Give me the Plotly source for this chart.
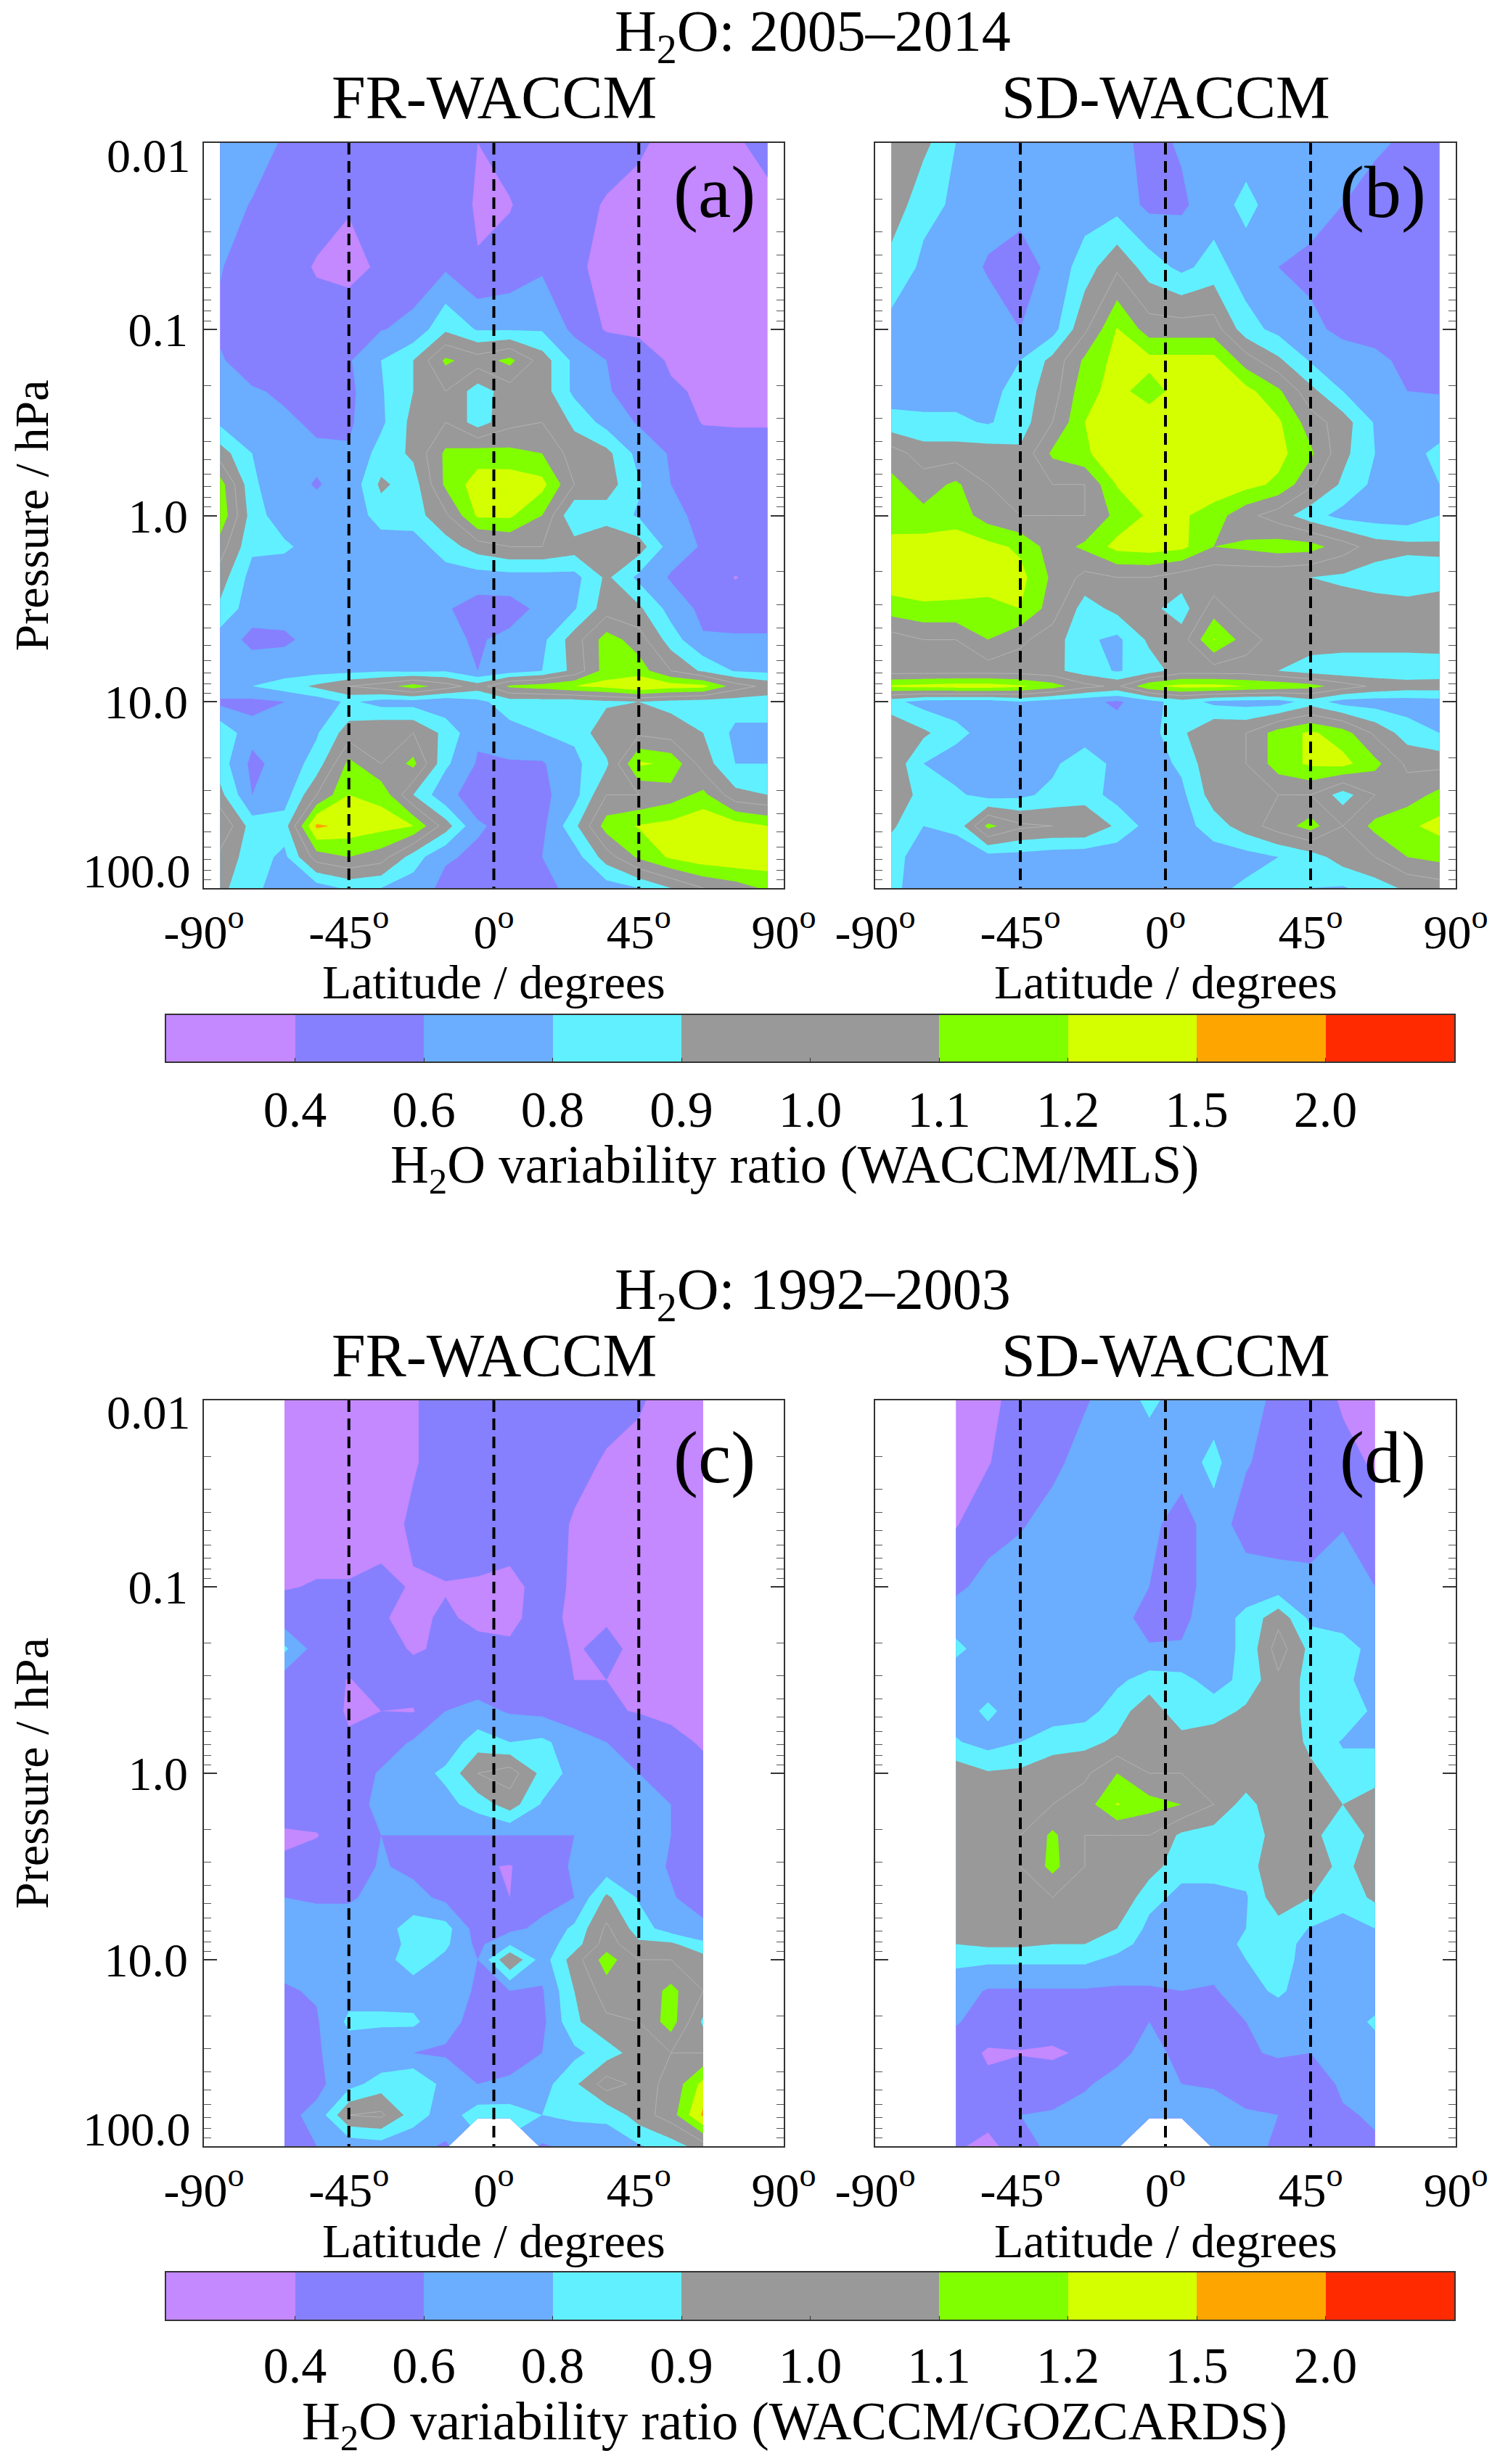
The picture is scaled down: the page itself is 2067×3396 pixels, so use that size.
import numpy as np
import plotly.graph_objects as go

N = None
lat_full = [-85,-75,-65,-55,-45,-35,-25,-15,-5,5,15,25,35,45,55,65,75,85]
lat_part = [-65,-55,-45,-35,-25,-15,-5,5,15,25,35,45,55,65]
pressure = [0.01,0.0215,0.0464,0.1,0.147,0.215,0.316,0.464,0.681,1.0,1.47,2.15,3.16,4.64,6.81,8.25,10.0,14.7,21.5,31.6,46.4,68.1,100.0]

ratio_a = [
[.72,.68,.58,.5,.5,.5,.5,.48,.4,.47,.5,.5,.5,.42,.36,.35,.38,.45],
[.67,.59,.5,.5,.41,.5,.5,.5,.38,.39,.5,.48,.38,.36,.34,.33,.33,.36],
[.61,.52,.5,.38,.36,.42,.5,.57,.41,.47,.57,.42,.37,.36,.34,.33,.33,.33],
[.57,.5,.5,.5,.48,.59,.65,.88,.78,.78,.78,.55,.38,.37,.33,.33,.33,.33],
[.62,.5,.5,.5,.58,.8,.9,1.12,1.05,1.13,.95,.75,.6,.48,.38,.36,.35,.33],
[.65,.62,.57,.5,.55,.78,.9,1.0,.85,.95,.95,.75,.62,.5,.42,.38,.36,.34],
[.76,.66,.63,.57,.57,.76,.93,1.0,.85,.97,1.0,.88,.72,.58,.5,.39,.39,.39],
[.95,.8,.65,.63,.62,.84,.92,1.12,1.15,1.13,1.1,.95,.93,.73,.58,.5,.45,.45],
[1.15,.82,.65,.59,.65,.92,.85,1.12,1.35,1.4,1.3,1.0,.95,.81,.6,.5,.45,.45],
[1.18,.85,.68,.65,.65,.85,.85,.98,1.25,1.25,1.1,.8,.85,.78,.65,.55,.5,.5],
[1.05,.82,.82,.7,.68,.68,.7,.85,.95,1.0,1.0,.95,1.0,.95,.7,.58,.55,.52],
[.95,.72,.66,.66,.65,.65,.66,.7,.7,.72,.72,.73,.92,.75,.58,.55,.39,.5],
[.88,.68,.67,.66,.65,.63,.63,.62,.52,.52,.65,.78,.95,.92,.72,.55,.52,.52],
[.7,.55,.57,.66,.66,.66,.66,.64,.58,.65,.75,.95,1.15,1.05,.85,.62,.62,.62],
[.75,.7,.7,.72,.74,.77,.75,.78,.6,.7,.8,.93,1.15,1.15,1.0,.88,.78,.75],
[.8,.8,.85,.92,1.0,1.05,1.15,1.05,.95,1.12,1.15,1.2,1.3,1.5,1.35,1.3,1.05,.97],
[.55,.55,.6,.68,.82,.72,.72,.65,.75,.85,.85,.85,.88,.9,.87,.85,.85,.85],
[.88,.66,.66,.78,.95,1.0,1.0,.87,.63,.73,.8,.82,.98,.98,.95,.9,.75,.75],
[.85,.55,.68,.84,1.13,1.0,1.13,.82,.58,.58,.58,.75,.88,1.25,1.18,.95,.8,.8],
[.93,.6,.7,1.0,1.2,1.18,.9,.65,.52,.52,.55,.72,1.0,1.0,1.05,1.13,.93,.9],
[1.1,.85,.85,1.6,1.4,1.3,1.2,.95,.62,.55,.55,.87,1.15,1.22,1.3,1.45,1.35,1.2],
[.97,.85,.75,1.05,1.1,1.05,.85,.62,.57,.55,.6,.7,.95,1.12,1.25,1.4,1.45,1.4],
[.93,.82,.72,.7,.82,.8,.7,.55,.58,.58,.55,.65,.7,.8,.9,1.0,1.05,1.12],
]

ratio_b = [
[1.0,.93,.8,.7,.68,.68,.68,.65,.55,.62,.66,.7,.68,.68,.65,.62,.58,.6],
[.98,.82,.78,.68,.67,.68,.7,.72,.55,.57,.7,.83,.7,.68,.6,.55,.5,.5],
[.85,.77,.7,.58,.5,.66,.85,.98,.85,.75,.84,.7,.6,.55,.5,.5,.5,.5],
[.75,.72,.72,.7,.6,.72,.98,1.22,1.05,1.05,1.05,.84,.74,.65,.55,.52,.52,.52],
[.72,.72,.72,.72,.8,.93,1.12,1.3,1.3,1.3,1.3,1.05,.92,.78,.7,.65,.55,.52],
[.72,.72,.72,.72,.85,.95,1.17,1.3,1.15,1.35,1.35,1.3,1.12,.93,.8,.72,.6,.59],
[.83,.82,.82,.78,.85,1.0,1.2,1.35,1.4,1.4,1.4,1.35,1.25,1.05,.95,.78,.7,.68],
[1.05,.95,.95,.95,.92,1.12,1.18,1.45,1.5,1.5,1.45,1.4,1.3,1.12,.93,.8,.72,.83],
[1.13,1.05,1.12,1.0,.98,1.0,1.0,1.22,1.35,1.35,1.4,1.3,1.18,1.02,.88,.75,.7,.8],
[1.15,1.13,1.16,1.05,1.0,1.0,1.0,1.13,1.25,1.25,1.15,1.03,.95,.84,.73,.7,.68,.8],
[1.3,1.35,1.35,1.3,1.18,1.05,1.12,1.3,1.35,1.28,1.1,1.12,1.15,1.14,1.05,.95,.93,.92],
[1.4,1.4,1.35,1.3,1.3,1.08,.97,1.0,1.0,.95,.93,.93,.92,.9,.88,.85,.82,.86],
[1.15,1.18,1.18,1.18,1.2,1.05,.85,.93,.93,.85,1.05,.93,.95,.95,.95,.95,.95,.95],
[.95,1.0,1.0,1.1,1.02,.95,.82,.75,.92,.95,1.22,1.05,.95,.95,.95,.95,.95,.95],
[.95,.95,.95,.95,.95,.93,.85,.78,.85,.95,.95,.95,.9,.85,.83,.83,.83,.84],
[1.25,1.3,1.35,1.35,1.25,1.15,1.03,.98,1.18,1.3,1.3,1.2,1.18,1.14,1.05,.98,.95,.95],
[.83,.72,.7,.7,.8,.7,.65,.57,.72,.85,.75,.72,.7,.85,.72,.7,.7,.72],
[1.0,.92,.83,.72,.68,.66,.66,.68,.72,.88,1.0,1.0,1.15,1.25,1.15,.98,.85,.8],
[.98,.8,.7,.7,.7,.75,.88,.72,.7,.82,.98,1.0,1.15,1.25,1.3,1.13,.98,.97],
[1.0,.85,.82,.72,.75,.83,.85,.72,.7,.75,.95,1.0,1.0,1.0,.85,1.0,1.05,1.13],
[.92,.8,.82,1.13,1.02,1.0,1.0,.88,.72,.72,.85,.95,1.05,1.14,1.0,1.13,1.18,1.3],
[.83,.72,.7,.72,.72,.68,.66,.66,.66,.68,.7,.72,.8,.85,.95,1.0,1.1,1.13],
[.82,.72,.68,.66,.66,.66,.66,.66,.66,.68,.75,.82,.88,.8,.78,.85,.92,.95],
]

ratio_c = [
[.33,.33,.33,.34,.38,.5,.5,.5,.5,.5,.47,.42,.33,.33],
[.33,.33,.33,.34,.39,.45,.5,.5,.5,.46,.38,.35,.33,.33],
[.33,.33,.33,.35,.42,.5,.5,.5,.5,.38,.35,.34,.33,.33],
[.39,.41,.41,.43,.39,.39,.38,.35,.46,.38,.36,.34,.33,.33],
[.48,.5,.5,.41,.37,.42,.37,.37,.45,.37,.38,.35,.34,.33],
[.82,.5,.5,.48,.38,.43,.44,.42,.5,.38,.45,.35,.34,.33],
[.5,.5,.39,.48,.48,.5,.5,.5,.5,.4,.4,.36,.34,.33],
[.5,.5,.38,.4,.39,.6,.66,.58,.55,.47,.42,.39,.36,.34],
[.5,.5,.42,.5,.62,.68,.85,.8,.82,.7,.6,.52,.45,.38],
[.5,.5,.5,.62,.72,.82,1.0,1.05,.87,.72,.68,.6,.52,.45],
[.47,.5,.55,.63,.68,.74,.84,.95,.78,.7,.68,.65,.6,.5],
[.38,.39,.52,.6,.6,.6,.6,.6,.6,.6,.66,.65,.6,.5],
[.42,.5,.5,.62,.55,.55,.42,.39,.52,.62,.68,.7,.58,.5],
[.6,.58,.58,.65,.67,.55,.45,.4,.52,.6,.92,.78,.62,.5],
[.68,.68,.68,.7,.85,.84,.5,.55,.65,.82,1.02,.85,.7,.65],
[.68,.68,.68,.7,.83,.82,.55,.78,.7,.85,1.05,.92,.92,.82],
[.66,.68,.7,.72,.85,.75,.6,1.0,.7,.95,1.15,1.0,1.0,.95],
[.58,.62,.72,.72,.7,.68,.58,.6,.58,.9,1.05,1.02,1.13,1.0],
[.58,.58,.82,.82,.82,.65,.55,.5,.55,.88,.98,1.0,1.15,.88],
[.58,.58,.7,.62,.6,.58,.55,.55,.6,.75,.85,.95,1.0,1.0],
[.55,.55,.72,.85,.9,.72,.6,.62,.72,.88,1.05,.97,1.02,1.3],
[.55,.65,1.0,1.02,.85,.7,.85,.85,.8,.82,.82,.95,1.05,1.6],
[.52,.6,.65,.7,.65,.58,N,N,.58,.65,.7,.78,.85,.95],
]

ratio_d = [
[.33,.33,.5,.5,.58,.7,.82,.72,.7,.68,.55,.5,.38,.33],
[.33,.39,.5,.55,.68,.7,.7,.7,.83,.62,.5,.5,.45,.38],
[.39,.5,.58,.68,.7,.7,.66,.5,.72,.5,.5,.5,.59,.5],
[.55,.68,.72,.72,.72,.7,.6,.5,.72,.72,.68,.66,.68,.6],
[.72,.72,.72,.72,.72,.68,.52,.55,.72,.82,.97,.75,.7,.68],
[.82,.72,.72,.72,.72,.72,.62,.62,.72,.82,1.05,.87,.85,.72],
[.7,.7,.7,.7,.72,.76,.84,.83,.72,.83,.98,.86,.82,.72],
[.7,.82,.7,.7,.72,.85,.97,.82,.85,.92,1.0,.85,.88,.75],
[.81,.72,.8,.85,.87,.92,1.0,.95,.97,.98,1.0,.87,.78,.78],
[.96,.91,.92,.97,.98,1.1,1.0,1.0,1.0,.98,1.0,.93,.84,.84],
[1.0,1.0,1.0,1.0,1.05,1.22,1.14,1.1,1.0,.85,1.0,.95,.9,.97],
[1.0,1.0,1.0,1.12,1.0,1.0,1.0,.88,.85,.83,.95,.92,.86,.92],
[1.0,1.0,1.0,1.13,1.0,1.0,.95,.83,.85,.84,1.0,1.0,.85,1.0],
[1.0,1.0,1.0,1.0,1.0,1.0,.83,.75,.72,.78,.97,.9,.84,.92],
[.97,.97,.97,.97,.98,.9,.75,.72,.72,.8,.85,.79,.72,.8],
[.9,.92,.92,.9,.9,.84,.72,.7,.7,.82,.85,.72,.7,.7],
[.82,.82,.82,.82,.82,.75,.7,.68,.68,.8,.85,.7,.68,.68],
[.7,.58,.58,.58,.58,.57,.58,.6,.58,.72,.82,.68,.65,.65],
[.62,.5,.5,.5,.5,.5,.6,.5,.5,.6,.66,.68,.68,.82],
[.48,.38,.39,.37,.43,.55,.66,.55,.5,.58,.62,.6,.64,.7],
[.45,.43,.5,.5,.58,.66,.7,.6,.58,.52,.5,.5,.63,.7],
[.45,.45,.6,.62,.66,.7,.75,.75,.7,.62,.6,.5,.58,.62],
[.42,.36,.48,.68,.7,.7,N,N,.7,.66,.57,.52,.5,.58],
]

level_edges = [0.2,0.4,0.6,0.8,0.9,1.0,1.1,1.2,1.5,2.0,3.0]
level_labels = ["0.4","0.6","0.8","0.9","1.0","1.1","1.2","1.5","2.0"]
band_colors = ["#C488FF","#8680FF","#6BADFF","#61F0FF","#999999","#999999","#80FF00","#D4FF00","#FFA500","#FF2A00"]
dashed_lats = [-45,0,45]
lat_ticks = [-90,-45,0,45,90]
p_ticks = [0.1,1.0,10.0]
p_minor = [m*10.0**e for e in range(-2,2) for m in range(2,10)]

W, H = 2067, 3396
FONT = "Liberation Serif"
TICK = 66
def px(v): return v/W
def py(v): return 1-v/H

stepped = []
for i,c in enumerate(band_colors):
    stepped += [[i/10,c],[(i+1)/10,c]]

fig = go.Figure()
panels = [
 (ratio_a, lat_full, 281, 1080, 197, 1224, "(a)", 984, 264),
 (ratio_b, lat_full, 1206, 2006, 197, 1224, "(b)", 1905, 264),
 (ratio_c, lat_part, 281, 1080, 1930, 2958, "(c)", 984, 2008),
 (ratio_d, lat_part, 1206, 2006, 1930, 2958, "(d)", 1905, 2008),
]
ann = []
def text(t,x,y,size,rot=0,anchor="center"):
    ann.append(dict(text=t,x=px(x),y=py(y),xref="paper",yref="paper",showarrow=False,
                    xanchor=anchor,yanchor="middle",textangle=rot,
                    font=dict(family=FONT,size=size,color="black")))

for i,(z,lats,x0,x1,y0,y1,lab,lx,ly) in enumerate(panels):
    n = i+1
    xa,ya = f"x{n}",f"y{n}"
    band = np.interp(np.array(z,dtype=float),level_edges,np.arange(11))
    fig.add_trace(go.Contour(x=lats,y=pressure,z=band,xaxis=xa,yaxis=ya,colorscale=stepped,
        zmin=0,zmax=10,autocontour=False,showscale=False,connectgaps=False,hoverinfo="skip",
        contours=dict(coloring="fill",start=1,end=9,size=1,showlines=False),line=dict(width=0,smoothing=0)))
    fig.add_trace(go.Contour(x=lats,y=pressure,z=band,xaxis=xa,yaxis=ya,showscale=False,
        autocontour=False,connectgaps=False,hoverinfo="skip",
        contours=dict(coloring="none",start=5,end=5.5,size=1,showlines=True),
        line=dict(color="#b4b4b4",width=1,smoothing=0)))
    for d in dashed_lats:
        fig.add_trace(go.Scatter(x=[d,d],y=[pressure[0],pressure[-1]],xaxis=xa,yaxis=ya,mode="lines",
            line=dict(color="black",width=4,dash="16px,9px"),showlegend=False,hoverinfo="skip"))
    fig.update_layout({
      f"xaxis{n}":dict(domain=[px(x0),px(x1)],anchor=ya,range=[-90,90],tickvals=lat_ticks,
         ticktext=[f"{t}<sup>o</sup>" for t in lat_ticks],ticks="",showgrid=False,zeroline=False,
         showline=True,linecolor="#333",linewidth=1.5,mirror=True,ticklabelstandoff=2,
         tickfont=dict(family=FONT,size=TICK,color="black")),
      f"yaxis{n}":dict(domain=[py(y1),py(y0)],anchor=xa,type="log",range=[2,-2],
         tickvals=p_ticks,ticktext=[f"{t:.1f}" for t in p_ticks] if n in (1,3) else ["","",""],
         ticks="inside",ticklen=18,tickcolor="#333",tickwidth=1.5,showgrid=False,zeroline=False,
         showline=True,linecolor="#333",linewidth=1.5,mirror="ticks",ticklabelstandoff=7,
         minor=dict(tickvals=p_minor,ticks="inside",ticklen=10,tickcolor="#555",tickwidth=1,showgrid=False),
         tickfont=dict(family=FONT,size=TICK,color="black")),
    })
    cx = (x0+x1)/2
    text(lab,lx,ly,102)
    text("FR-WACCM" if n%2 else "SD-WACCM",cx,y0-62,84)
    text("Latitude / degrees",cx,y1+130,66)
    if n in (1,3):
        text("Pressure / hPa",43,(y0+y1)/2,66,rot=-90)
        text("0.01",265,y0+17,TICK,anchor="right")
        text("100.0",265,y1-24,TICK,anchor="right")

for n,(y0,y1,lab,standoff,laby) in zip((5,6),((1399,1463,"H<sub>2</sub>O variability ratio (WACCM/MLS)",4,1610),
                             (3132,3197,"H<sub>2</sub>O variability ratio (WACCM/GOZCARDS)",1,3342))):
    fig.add_trace(go.Heatmap(z=[list(range(10))],x=list(range(10)),y=[0],colorscale=stepped,zmin=-0.5,zmax=9.5,
        showscale=False,hoverinfo="skip",xaxis=f"x{n}",yaxis=f"y{n}"))
    fig.update_layout({
      f"xaxis{n}":dict(domain=[px(229),px(2004)],anchor=f"y{n}",range=[-.5,9.5],
         tickvals=[k+.5 for k in range(9)],ticktext=level_labels,ticks="inside",ticklen=5,tickcolor="#333",
         showgrid=False,zeroline=False,showline=True,linecolor="#333",linewidth=1.5,mirror=True,
         ticklabelstandoff=standoff,tickfont=dict(family=FONT,size=70,color="black")),
      f"yaxis{n}":dict(domain=[py(y1),py(y0)],anchor=f"x{n}",range=[-.5,.5],showticklabels=False,ticks="",
         showgrid=False,zeroline=False,showline=True,linecolor="#333",linewidth=1.5,mirror=True),
    })
    text(lab,1095,laby,73)

text("H<sub>2</sub>O: 2005–2014",1120,49,80)
text("H<sub>2</sub>O: 1992–2003",1120,1783,80)

fig.update_layout(width=W,height=H,margin=dict(l=0,r=0,t=0,b=0,autoexpand=False),paper_bgcolor="white",plot_bgcolor="white",
                  showlegend=False,annotations=ann,font=dict(family=FONT))
fig.write_html("out.html",post_script="document.body.style.margin='0';",config={"displayModeBar":False})
